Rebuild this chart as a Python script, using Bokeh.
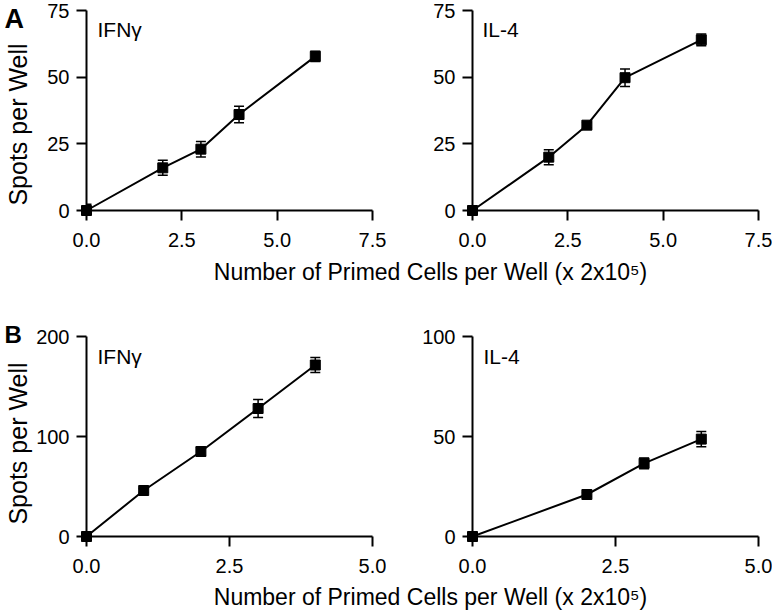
import math
from bokeh.plotting import figure
from bokeh.models import (ColumnDataSource, Range1d, FixedTicker, PrintfTickFormatter,
                          Whisker, TeeHead, Label)
from bokeh.core.properties import value
from bokeh.layouts import column, row
from bokeh.embed import file_html
from bokeh.resources import INLINE

FONT = "Liberation Sans"

# ---- data ----
a_x = [0, 2, 3, 4, 6]
a_ifng = [0, 16, 23, 36, 57.8]
a_ifng_err = [2.3, 2.8, 2.9, 3.1, 1.9]
a_il4 = [0, 20, 32, 49.8, 64]
a_il4_err = [0.5, 2.8, 1.0, 3.3, 2.2]

b_ifng_x = [0, 1, 2, 3, 4]
b_ifng = [0, 46, 85, 128, 171.5]
b_ifng_err = [1, 2, 4, 9, 7.5]
b_il4_x = [0, 2, 3, 4]
b_il4 = [0, 21, 36.6, 48.7]
b_il4_err = [0.5, 1, 2.7, 3.8]

a_xticks = [0, 2.5, 5, 7.5]
b_xticks = [0, 2.5, 5]
a_yticks = [0, 25, 50, 75]
b_ifng_yticks = [0, 100, 200]
b_il4_yticks = [0, 50, 100]

x_title = "Number of Primed Cells per Well (x 2x10\u2075)"
y_title = "Spots per Well"


def panel(xs, ys, errs, xticks, yticks, name, left, height, top, bottom,
          name_dx, name_dy, letter=None, letter_dy=0, letter_size="26px", ytitle_dy=0):
    p = figure(width=386, height=height,
               x_range=Range1d(xticks[0], xticks[-1]),
               y_range=Range1d(yticks[0], yticks[-1]),
               output_backend="svg", toolbar_location=None,
               min_border_left=86, min_border_right=14,
               min_border_top=top, min_border_bottom=bottom)
    p.grid.visible = False
    p.outline_line_color = None
    for ax in (p.xaxis[0], p.yaxis[0]):
        ax.axis_line_width = 2
        ax.axis_line_color = "black"
        ax.major_tick_line_width = 2
        ax.major_tick_line_color = "black"
        ax.major_tick_out = 10
        ax.major_tick_in = 0
        ax.minor_tick_out = 0
        ax.minor_tick_in = 0
        ax.major_label_text_font = FONT
        ax.major_label_text_font_size = "20px"
        ax.major_label_text_color = "black"
    p.xaxis.major_label_standoff = 12
    p.yaxis.major_label_standoff = 7
    p.xaxis.ticker = FixedTicker(ticks=xticks)
    p.xaxis.formatter = PrintfTickFormatter(format="%.1f")
    p.yaxis.ticker = FixedTicker(ticks=yticks)

    src = ColumnDataSource(dict(
        x=xs, y=ys,
        upper=[v + e for v, e in zip(ys, errs)],
        lower=[v - e for v, e in zip(ys, errs)],
    ))
    p.line("x", "y", source=src, line_color="black", line_width=2, level="overlay")
    w = Whisker(base="x", upper="upper", lower="lower", source=src,
                line_color="black", line_width=1.5, level="overlay",
                upper_head=TeeHead(size=10, line_width=1.5, line_color="black"),
                lower_head=TeeHead(size=10, line_width=1.5, line_color="black"))
    p.add_layout(w)
    p.scatter("x", "y", source=src, marker="square", size=10,
              fill_color="black", line_color="black", level="overlay")

    p.add_layout(Label(x=xticks[0], y=yticks[-1], x_offset=name_dx, y_offset=name_dy,
                       text=name, text_baseline="top", text_align="left",
                       text_font=FONT, text_font_size="21px", text_color="black"))
    if left:
        p.text(x=[xticks[0]], y=[(yticks[0] + yticks[-1]) / 2], text=[y_title],
               angle=math.pi / 2, x_offset=-69, y_offset=ytitle_dy,
               text_align="center", text_baseline="middle", text_font=value(FONT),
               text_font_size="25px", text_color="black", level="overlay")
    if letter:
        p.text(x=[xticks[0]], y=[yticks[-1]], text=[letter], x_offset=-82, y_offset=letter_dy,
               text_baseline="top", text_align="left", text_font=value(FONT),
               text_font_size=letter_size, text_font_style="bold", text_color="black",
               level="overlay")
    return p


def strip(height, y):
    s = figure(width=772, height=height, x_range=Range1d(0, 1), y_range=Range1d(0, 1),
               output_backend="svg", toolbar_location=None,
               x_axis_location=None, y_axis_location=None, min_border=0)
    s.grid.visible = False
    s.outline_line_color = None
    s.add_layout(Label(x=430, y=y, x_units="screen", y_units="screen",
                       text=x_title, text_align="center", text_baseline="middle",
                       text_font=FONT, text_font_size="23px", text_color="black"))
    return s


a1 = panel(a_x, a_ifng, a_ifng_err, a_xticks, a_yticks, "IFN\u03b3", True,
           255, 10, 45, 11, -7, letter="A", letter_dy=-7, letter_size="27px", ytitle_dy=14)
a2 = panel(a_x, a_il4, a_il4_err, a_xticks, a_yticks, "IL-4", False,
           255, 10, 45, 10, -7)
b1 = panel(b_ifng_x, b_ifng, b_ifng_err, b_xticks, b_ifng_yticks, "IFN\u03b3", True,
           293, 48, 45, 11, -8, letter="B", letter_dy=-16, letter_size="24px", ytitle_dy=7)
b2 = panel(b_il4_x, b_il4, b_il4_err, b_xticks, b_il4_yticks, "IL-4", False,
           293, 48, 45, 11, -8)

layout = column(row(a1, a2), strip(33, 17), row(b1, b2), strip(35, 20))

open("out.html", "w").write(file_html(layout, INLINE))
